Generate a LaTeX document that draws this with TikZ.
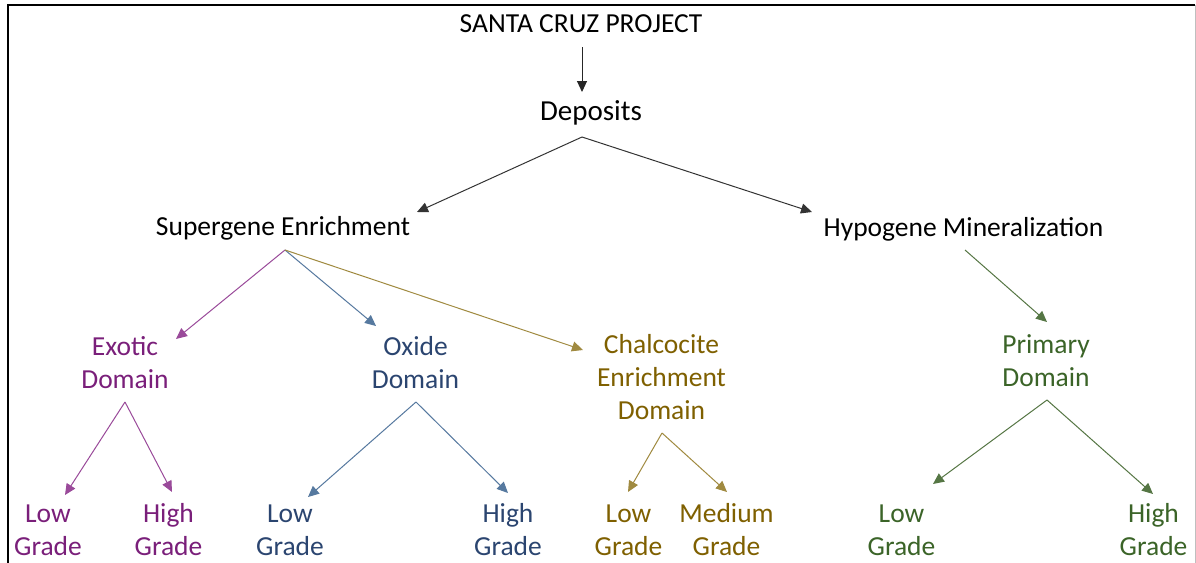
\documentclass[tikz,border=0pt]{standalone}
\usepackage{fontspec}
\setmainfont{Carlito}
\usetikzlibrary{arrows.meta}
\definecolor{exoc}{HTML}{7A1F7A}
\definecolor{exol}{HTML}{9A4A9A}
\definecolor{oxic}{HTML}{2B4570}
\definecolor{oxil}{HTML}{56799F}
\definecolor{chac}{HTML}{7F6000}
\definecolor{chal}{HTML}{A08A40}
\definecolor{pric}{HTML}{3B6428}
\definecolor{pril}{HTML}{557644}
\begin{document}
\begin{tikzpicture}[x=1pt,y=-1pt,
  lbl/.style={inner sep=0pt,anchor=base,align=center,font=\fontsize{27.5}{33}\selectfont},
  conn/.style={line width=1pt,-{Triangle[length=11pt,width=10pt]}}]
\useasboundingbox (0,0) rectangle (1196,562);
\fill[white] (0,0) rectangle (1196,562);
% frame
\draw[line width=2pt] (8,600) -- (8,4.5) -- (1195,4.5);
\draw[line width=0.8pt,black!25] (1195,4.5) -- (1195,600);
% nodes (anchor base = baseline of the last line)
\node[lbl] (title) at (581,32) {SANTA CRUZ PROJECT};
\node[lbl,font=\fontsize{29}{35}\selectfont] (dep) at (591,120) {Deposits};
\node[lbl] (sup) at (283,235) {Supergene Enrichment};
\node[lbl] (hyp) at (963.5,236) {Hypogene Mineralization};
\node[lbl,text=exoc] (exo) at (125,388) {Exotic\\Domain};
\node[lbl,text=oxic] (oxi) at (415.5,388) {Oxide\\Domain};
\node[lbl,text=chac] (cha) at (661.5,419) {Chalcocite\\Enrichment\\Domain};
\node[lbl,text=pric] (pri) at (1046,386) {Primary\\Domain};
\node[lbl,text=exoc] (exoL) at (48,555) {Low\\Grade};
\node[lbl,text=exoc] (exoH) at (168.5,555) {High\\Grade};
\node[lbl,text=oxic] (oxiL) at (290,555.5) {Low\\Grade};
\node[lbl,text=oxic] (oxiH) at (508,555.5) {High\\Grade};
\node[lbl,text=chac] (chaL) at (628.5,555) {Low\\Grade};
\node[lbl,text=chac] (chaM) at (726.5,555) {Medium\\Grade};
\node[lbl,text=pric] (priL) at (901.5,555.5) {Low\\Grade};
\node[lbl,text=pric] (priH) at (1153.5,555.5) {High\\Grade};
% connector end points
\coordinate (titleOut) at (582,47);
\coordinate (depIn) at (582,92);
\coordinate (depOut) at (582,137);
\coordinate (supIn) at (417,212);
\coordinate (hypIn) at (812,212);
\coordinate (supOut) at (285,250);
\coordinate (exoIn) at (176,339);
\coordinate (oxiIn) at (376,326);
\coordinate (chaIn) at (583,350);
\coordinate (hypOut) at (965,250);
\coordinate (priIn) at (1047,322);
\coordinate (exoOut) at (125,402);
\coordinate (exoLIn) at (65,495);
\coordinate (exoHIn) at (172,492);
\coordinate (oxiOut) at (416,402);
\coordinate (oxiLIn) at (308,497);
\coordinate (oxiHIn) at (508,493);
\coordinate (chaOut) at (662,433);
\coordinate (chaLIn) at (628,492);
\coordinate (chaMIn) at (727,492);
\coordinate (priOut) at (1047,400);
\coordinate (priLIn) at (933,484);
\coordinate (priHIn) at (1153,494);
% connectors
\draw[conn,black!85] (titleOut) -- (depIn);
\draw[conn,black!80] (depOut) -- (supIn);
\draw[conn,black!80] (depOut) -- (hypIn);
\draw[conn,exol] (supOut) -- (exoIn);
\draw[conn,oxil] (supOut) -- (oxiIn);
\draw[conn,chal] (supOut) -- (chaIn);
\draw[conn,pril] (hypOut) -- (priIn);
\draw[conn,exol] (exoOut) -- (exoLIn);
\draw[conn,exol] (exoOut) -- (exoHIn);
\draw[conn,oxil] (oxiOut) -- (oxiLIn);
\draw[conn,oxil] (oxiOut) -- (oxiHIn);
\draw[conn,chal] (chaOut) -- (chaLIn);
\draw[conn,chal] (chaOut) -- (chaMIn);
\draw[conn,pril] (priOut) -- (priLIn);
\draw[conn,pril] (priOut) -- (priHIn);
\end{tikzpicture}
\end{document}
